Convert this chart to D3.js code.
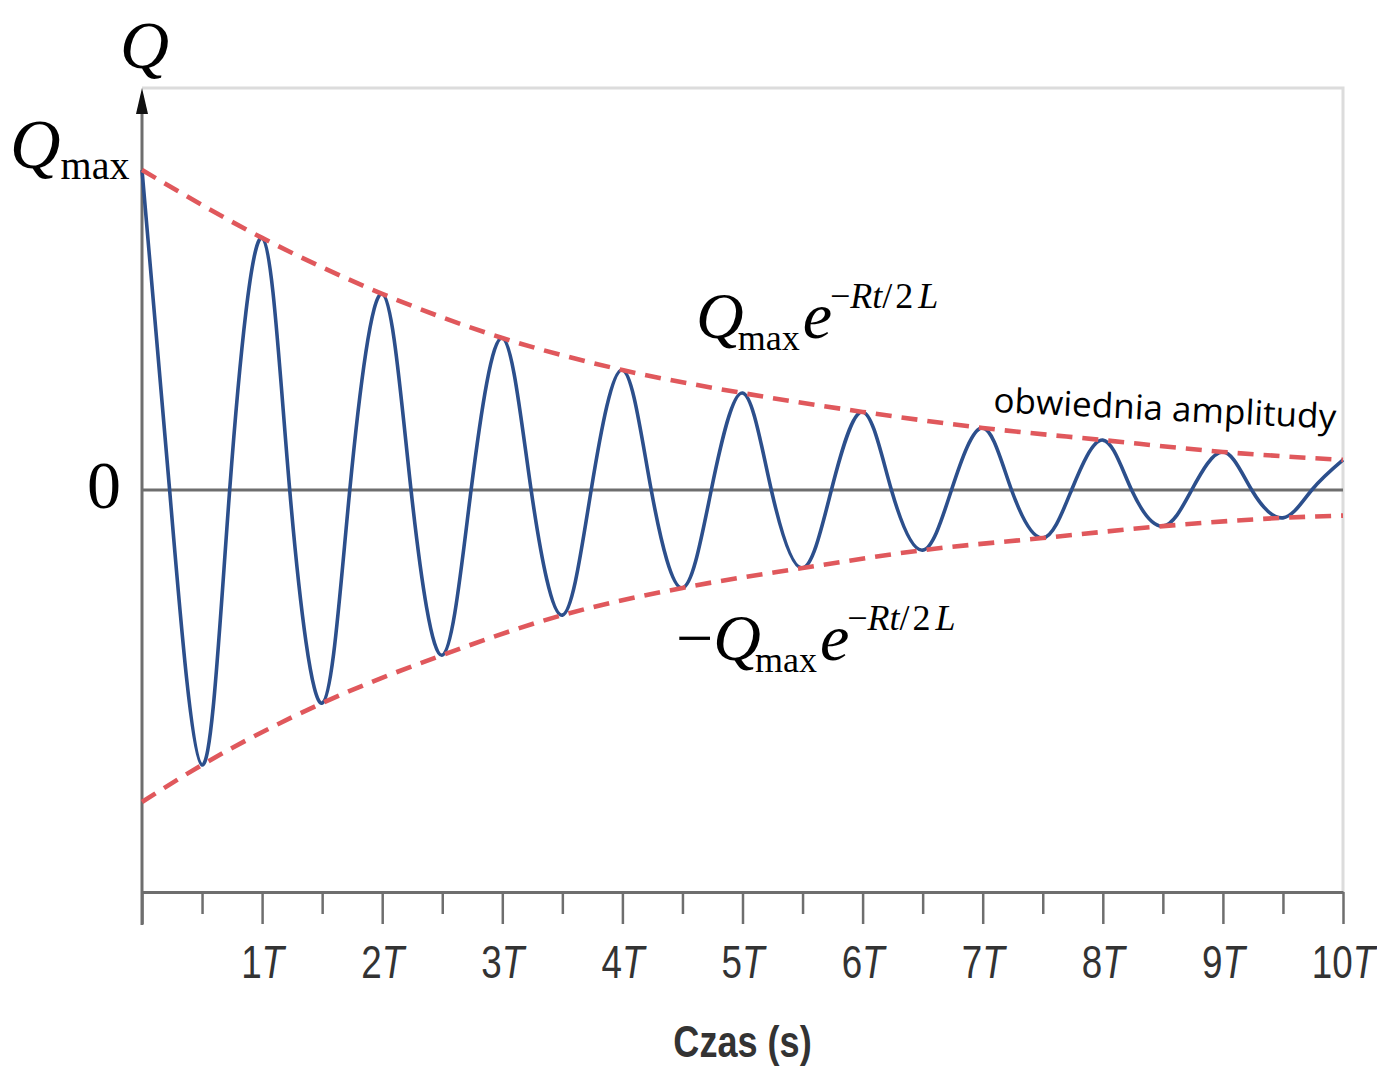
<!DOCTYPE html>
<html>
<head>
<meta charset="utf-8">
<script src="https://cdn.jsdelivr.net/npm/d3@7"></script>
<style>
  body { margin: 0; background: #fff; }
  svg { display: block; }
</style>
</head>
<body>
<div id="chart"></div>
<script>
// values in units of Qmax, time in units of T
const ticksT = [0, 0.5, 1, 1.5, 2, 2.5, 3, 3.5, 4, 4.5, 5, 5.5, 6, 6.5, 7, 7.5, 8, 8.5, 9, 9.5, 10]
const tickLabels = ['1', '2', '3', '4', '5', '6', '7', '8', '9', '10']

// upper envelope, read at t = 0,1,...,10
const upperT = [0, 1, 2, 3, 4, 5, 6, 7, 8, 9, 10]
const upperQ = [1.0, 0.788, 0.613, 0.475, 0.375, 0.303, 0.244, 0.194, 0.156, 0.119, 0.094]

// lower envelope, read at t = 0, 0.5, 1.5, ..., 9.5, 10
const lowerT = [0, 0.5, 1.5, 2.5, 3.5, 4.5, 5.5, 6.5, 7.5, 8.5, 9.5, 10]
const lowerQ = [-0.975, -0.859, -0.666, -0.516, -0.391, -0.306, -0.244, -0.188, -0.15, -0.113, -0.087, -0.08]

// zero crossings of the charge curve
const zeroT = [0.23, 0.73, 1.23, 1.73, 2.24, 2.74, 3.24, 3.74, 4.24, 4.74,
               5.24, 5.74, 6.24, 6.74, 7.24, 7.74, 8.24, 8.74, 9.24, 9.74]

const width = 1377
const height = 1067

const svg = d3.select('#chart').append('svg')
    .attr('width', width)
    .attr('height', height)

const x = d3.scaleLinear().domain([0, 10]).range([142, 1343])
const y = d3.scaleLinear().domain([-1, 1]).range([810, 170])
const yAxisBottom = 892

// light frame (top and right)
svg.append('path')
    .attr('d', `M${x(0)},88 H${x(10)} V${yAxisBottom}`)
    .attr('fill', 'none')
    .attr('stroke', '#dcdcdc')
    .attr('stroke-width', 3)

// zero line
svg.append('line')
    .attr('x1', x(0)).attr('x2', x(10))
    .attr('y1', y(0)).attr('y2', y(0))
    .attr('stroke', '#6e6e6e')
    .attr('stroke-width', 3)

// x axis
const xAxis = d3.axisBottom(x)
    .tickValues(ticksT)
    .tickSize(32)
    .tickSizeOuter(0)
    .tickFormat('')

const gx = svg.append('g')
    .attr('transform', `translate(0,${yAxisBottom})`)
    .call(xAxis)

gx.select('.domain').attr('stroke', '#6e6e6e').attr('stroke-width', 3)
gx.selectAll('.tick line')
    .attr('stroke', '#6e6e6e')
    .attr('stroke-width', 2.5)
    .attr('y2', (d) => (d % 1 === 0 ? 32 : 22))

gx.selectAll('.tick')
    .filter((d) => d % 1 === 0 && d > 0)
    .append('text')
    .attr('transform', 'translate(0,86) scale(0.8,1)')
    .attr('text-anchor', 'middle')
    .attr('fill', '#333')
    .style('font-family', 'Liberation Sans, Arial, sans-serif')
    .style('font-size', '46px')
    .each(function (d) {
        const t = d3.select(this)
        t.append('tspan').text(tickLabels[d - 1])
        t.append('tspan').style('font-style', 'italic').text('T')
    })

svg.append('text')
    .attr('transform', `translate(${x(5)},1057) scale(0.82,1)`)
    .attr('text-anchor', 'middle')
    .attr('fill', '#333')
    .style('font-family', 'Liberation Sans, Arial, sans-serif')
    .style('font-weight', 'bold')
    .style('font-size', '44px')
    .text('Czas (s)')

// y axis with arrow
svg.append('line')
    .attr('x1', x(0)).attr('x2', x(0))
    .attr('y1', 108).attr('y2', 925)
    .attr('stroke', '#6e6e6e')
    .attr('stroke-width', 3)

svg.append('path')
    .attr('d', `M${x(0)},88 L${x(0) - 6},114 L${x(0) + 6},114 Z`)
    .attr('fill', '#111')

// envelopes
const envLine = d3.line()
    .x((d) => x(d[0]))
    .y((d) => y(d[1]))
    .curve(d3.curveMonotoneX)

const envelopes = [
    d3.zip(upperT, upperQ),
    d3.zip(lowerT, lowerQ)
]

// charge curve through extrema and zero crossings
const curvePts = []
upperT.forEach((t, i) => curvePts.push([t, upperQ[i]]))
lowerT.forEach((t, i) => {
    if (t % 1 !== 0) curvePts.push([t, lowerQ[i]])
})
zeroT.forEach((t) => curvePts.push([t, 0]))
curvePts.sort((a, b) => a[0] - b[0])

const qLine = d3.line()
    .x((d) => x(d[0]))
    .y((d) => y(d[1]))
    .curve(d3.curveNatural)

svg.append('path')
    .datum(curvePts)
    .attr('d', qLine)
    .attr('fill', 'none')
    .attr('stroke', '#2c4f8c')
    .attr('stroke-width', 3.6)

svg.append('g')
    .selectAll('path')
    .data(envelopes)
    .enter()
    .append('path')
    .attr('d', envLine)
    .attr('fill', 'none')
    .attr('stroke', '#e0585c')
    .attr('stroke-width', 4.6)
    .attr('stroke-dasharray', '16,10')

// math labels
const serif = 'Liberation Serif, Times New Roman, serif'

function mathText(px, py) {
    return svg.append('text')
        .attr('x', px)
        .attr('y', py)
        .attr('fill', '#000')
        .style('font-family', serif)
}

mathText(120, 68)
    .style('font-size', '68px')
    .style('font-style', 'italic')
    .text('Q')

const qm = mathText(10, 168).style('font-size', '70px')
qm.append('tspan').style('font-style', 'italic').text('Q')
qm.append('tspan').attr('dy', 11).attr('dx', 0).style('font-size', '40px').text('max')

mathText(87, 508).style('font-size', '68px').text('0')

function formula(px, py, neg) {
    const t = mathText(px, py).style('font-size', '66px')
    if (neg) t.append('tspan').text('\u2212')
    t.append('tspan').style('font-style', 'italic').text('Q')
    t.append('tspan').attr('dy', 12).attr('dx', -6).style('font-size', '36px').text('max')
    t.append('tspan').attr('dy', -12).attr('dx', 3).style('font-style', 'italic').text('e')
    t.append('tspan').attr('dy', -30).attr('dx', -2).style('font-size', '36px').text('\u2212')
    t.append('tspan').style('font-size', '36px').style('font-style', 'italic').text('Rt')
    t.append('tspan').style('font-size', '36px').text('/')
    t.append('tspan').attr('dx', 3).style('font-size', '36px').text('2')
    t.append('tspan').attr('dx', 5).style('font-size', '36px').style('font-style', 'italic').text('L')
}

formula(696, 338, false)
formula(676, 660, true)

svg.append('text')
    .attr('transform', 'translate(993,412) rotate(2.8)')
    .attr('fill', '#000')
    .attr('textLength', 343)
    .attr('lengthAdjust', 'spacingAndGlyphs')
    .style('font-family', 'Open Sans, Noto Sans, sans-serif')
    .style('font-size', '34px')
    .text('obwiednia amplitudy')
</script>
</body>
</html>
